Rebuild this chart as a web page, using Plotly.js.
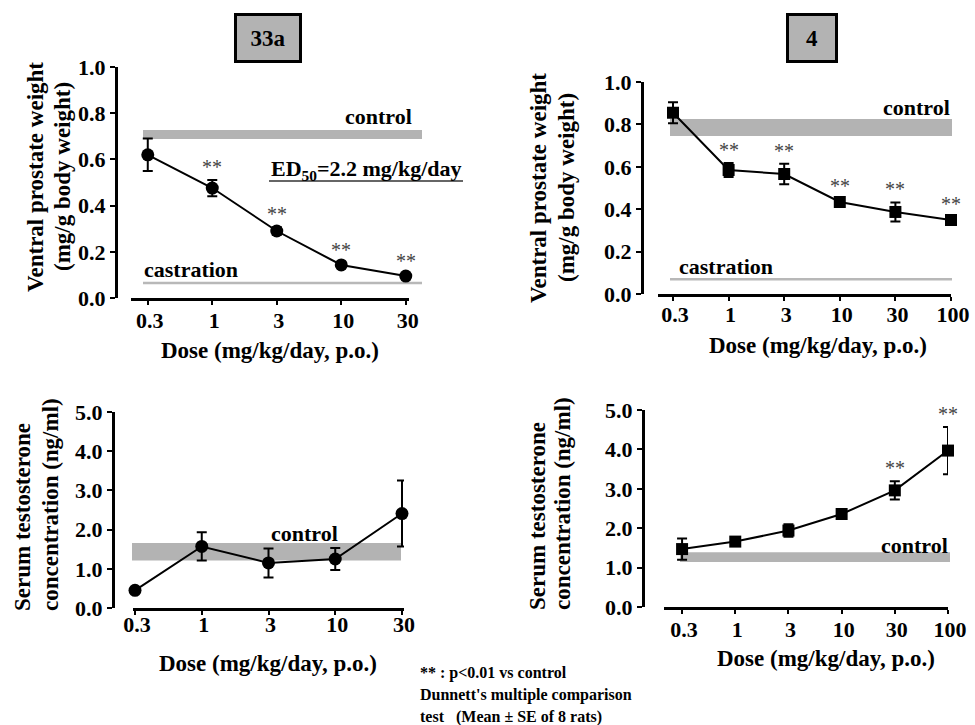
<!DOCTYPE html>
<html>
<head>
<meta charset="utf-8">
<script src="https://cdn.plot.ly/plotly-3.0.1.min.js"></script>
<style>html,body{margin:0;padding:0;background:#fff;}#chart{width:975px;height:725px;}</style>
</head>
<body>
<div id="chart"></div>
<script>
// ---------- data ----------
var doses33a = ['0.3', '1', '3', '10', '30'];
var doses4 = ['0.3', '1', '3', '10', '30', '100'];

// Ventral prostate weight (mg/g body weight)
var vp33a = [0.62, 0.476, 0.29, 0.143, 0.095];
var vp33aErr = [0.07, 0.035, 0.016, 0.01, 0.008];
var vp4 = [0.855, 0.585, 0.566, 0.434, 0.387, 0.349];
var vp4Err = [0.05, 0.033, 0.048, 0.015, 0.045, 0.012];

// Serum testosterone concentration (ng/ml)
var st33a = [0.45, 1.57, 1.15, 1.25, 2.41];
var st33aErr = [0.05, 0.36, 0.37, 0.28, 0.84];
var st4 = [1.47, 1.66, 1.94, 2.36, 2.96, 3.97];
var st4Err = [0.27, 0.09, 0.16, 0.11, 0.23, 0.6];

// control (mean band) and castration levels
var vp33aControl = [0.688, 0.727];
var vp33aCastration = 0.065;
var vp4Control = [0.745, 0.825];
var vp4Castration = 0.07;
var st33aControl = [1.21, 1.66];
var st4Control = [1.14, 1.39];

// significance (** : p<0.01 vs control)
var sigVp33a = [false, true, true, true, true];
var sigVp4 = [false, true, true, true, true, true];
var sigSt33a = [false, false, false, false, false];
var sigSt4 = [false, false, false, false, true, true];

var compounds = ['33a', '4'];
var xTitle = 'Dose (mg/kg/day, p.o.)';
var yTitleVp = ['Ventral prostate weight', '(mg/g body weight)'];
var yTitleSt = ['Serum testosterone', 'concentration (ng/ml)'];
var footnote = ['** : p&lt;0.01 vs control', "Dunnett's multiple comparison", 'test   (Mean ± SE of 8 rats)'];

// ---------- layout helpers ----------
var W = 975, H = 725;
function px(x) { return x / W; }
function py(y) { return 1 - y / H; }
var FONT = 'Liberation Serif';

function series(x, y, err, xa, ya, sym, size) {
  return {
    type: 'scatter', mode: 'lines+markers', x: x, y: y, xaxis: xa, yaxis: ya,
    line: {color: 'black', width: 2},
    marker: {symbol: sym, size: size, color: 'black'},
    error_y: {type: 'data', array: err, visible: true, color: 'black', thickness: 2, width: 5},
    hoverinfo: 'x+y', showlegend: false, cliponaxis: false
  };
}

var traces = [
  series(doses33a, vp33a, vp33aErr, 'x', 'y', 'circle', 13),
  series(doses4, vp4, vp4Err, 'x2', 'y2', 'square', 12),
  series(doses33a, st33a, st33aErr, 'x3', 'y3', 'circle', 13),
  series(doses4, st4, st4Err, 'x4', 'y4', 'square', 12)
];

var TICKFONT = {family: FONT, size: 22, color: 'black', weight: 'bold'};
function xAxis(d0, d1, anchor, range, standoff) {
  return {
    domain: [px(d0), px(d1)], anchor: anchor, type: 'category', range: range,
    showline: true, linewidth: 3, linecolor: 'black',
    ticks: 'outside', ticklen: 4, tickwidth: 2, tickcolor: 'black',
    ticklabelstandoff: standoff, ticklabelshift: 2,
    tickfont: TICKFONT,
    showgrid: false, zeroline: false, fixedrange: true
  };
}
function yAxis(top, bottom, pos, range, dtick) {
  return {
    domain: [py(bottom), py(top)], anchor: 'free', position: px(pos), range: range,
    dtick: dtick, tick0: 0, tickformat: '.1f',
    showline: true, linewidth: 3, linecolor: 'black',
    ticks: 'outside', ticklen: 5, tickwidth: 2, tickcolor: 'black',
    tickfont: TICKFONT,
    showgrid: false, zeroline: false, fixedrange: true
  };
}

var shapes = [];
function band(yref, lim, x0, x1) {
  shapes.push({type: 'rect', xref: 'paper', yref: yref, x0: px(x0), x1: px(x1), y0: lim[0], y1: lim[1],
    fillcolor: '#b3b3b3', line: {width: 0}, layer: 'below'});
}
function hline(yref, yv, x0, x1) {
  shapes.push({type: 'line', xref: 'paper', yref: yref, x0: px(x0), x1: px(x1), y0: yv, y1: yv,
    line: {color: '#b8b8b8', width: 2.5}, layer: 'below'});
}
band('y', vp33aControl, 143, 422);
hline('y', vp33aCastration, 143, 422);
band('y2', vp4Control, 670, 952);
hline('y2', vp4Castration, 670, 952);
band('y3', st33aControl, 132, 401);
band('y4', st4Control, 680, 950);
// ED50 underline
shapes.push({type: 'line', xref: 'paper', yref: 'paper', x0: px(269), x1: px(463), y0: py(181), y1: py(181),
  line: {color: '#333', width: 1.5}});

var ann = [];
function txt(text, x, y, opts) {
  var a = {text: text, xref: 'paper', yref: 'paper', x: px(x), y: py(y), showarrow: false,
    xanchor: 'center', yanchor: 'middle',
    font: {family: FONT, size: 22, color: 'black', weight: 'bold'}};
  for (var k in opts) a[k] = opts[k];
  ann.push(a);
}
var TITLEFONT = {family: FONT, size: 23, color: 'black', weight: 'bold'};
// compound title boxes
txt(compounds[0], 267.5, 38, {width: 60, height: 42, bgcolor: '#b3b3b3', bordercolor: 'black', borderwidth: 3, borderpad: 1, font: TITLEFONT});
txt(compounds[1], 811.5, 38, {width: 44, height: 42, bgcolor: '#b3b3b3', bordercolor: 'black', borderwidth: 3, borderpad: 1, font: TITLEFONT});

// axis titles
txt(xTitle, 270, 350, {font: TITLEFONT});
txt(xTitle, 818, 345, {font: TITLEFONT});
txt(xTitle, 268, 663, {font: TITLEFONT});
txt(xTitle, 826, 658, {font: TITLEFONT});
txt(yTitleVp[0], 35, 177, {textangle: -90, font: TITLEFONT});
txt(yTitleVp[1], 62, 177, {textangle: -90, font: TITLEFONT});
txt(yTitleVp[0], 538, 188, {textangle: -90, font: TITLEFONT});
txt(yTitleVp[1], 566, 188, {textangle: -90, font: TITLEFONT});
txt(yTitleSt[0], 22, 517, {textangle: -90, font: TITLEFONT});
txt(yTitleSt[1], 51, 505, {textangle: -90, font: TITLEFONT});
txt(yTitleSt[0], 537, 516, {textangle: -90, font: TITLEFONT});
txt(yTitleSt[1], 562, 504, {textangle: -90, font: TITLEFONT});

// band labels
txt('control', 414, 117, {xanchor: 'right'});
txt('castration', 142, 269, {xanchor: 'left'});
txt('ED<sub>50</sub>=2.2 mg/kg/day', 269, 170, {xanchor: 'left'});
txt('control', 952, 108, {xanchor: 'right'});
txt('castration', 677, 267, {xanchor: 'left'});
txt('control', 304, 533);
txt('control', 950, 545, {xanchor: 'right'});

// footnote
var FOOTFONT = {family: FONT, size: 16, color: 'black', weight: 'bold'};
txt(footnote[0], 418, 673, {xanchor: 'left', font: FOOTFONT});
txt(footnote[1], 418, 695, {xanchor: 'left', font: FOOTFONT});
txt(footnote[2], 418, 717, {xanchor: 'left', font: FOOTFONT});

// significance stars (x given as category index)
function stars(y, err, sig, xa, ya) {
  for (var i = 0; i < y.length; i++) {
    if (!sig[i]) continue;
    ann.push({text: '**', xref: xa, yref: ya, x: i, y: y[i] + err[i], showarrow: false,
      xanchor: 'center', yanchor: 'bottom', yshift: 0,
      font: {family: FONT, size: 20, color: '#444'}});
  }
}
stars(vp33a, vp33aErr, sigVp33a, 'x', 'y');
stars(vp4, vp4Err, sigVp4, 'x2', 'y2');
stars(st33a, st33aErr, sigSt33a, 'x3', 'y3');
stars(st4, st4Err, sigSt4, 'x4', 'y4');

var layout = {
  width: W, height: H, margin: {l: 0, r: 0, t: 0, b: 0},
  paper_bgcolor: 'white', plot_bgcolor: 'rgba(0,0,0,0)',
  showlegend: false,
  font: {family: FONT, color: 'black'},
  xaxis: xAxis(131, 409, 'y', [-0.26, 4.05], -3),
  yaxis: yAxis(67, 298, 116, [0, 1], 0.2),
  xaxis2: xAxis(658, 951, 'y2', [-0.27, 5.0], -5),
  yaxis2: yAxis(82, 294, 642, [0, 1], 0.2),
  xaxis3: xAxis(133, 404, 'y3', [-0.03, 4.03], -9),
  yaxis3: yAxis(412, 608, 113, [0, 5], 1),
  xaxis4: xAxis(664, 948, 'y4', [-0.34, 5.0], -3),
  yaxis4: yAxis(410, 607, 643, [0, 5], 1),
  shapes: shapes,
  annotations: ann
};

Plotly.newPlot('chart', traces, layout, {displayModeBar: false, staticPlot: true});
</script>
</body>
</html>
